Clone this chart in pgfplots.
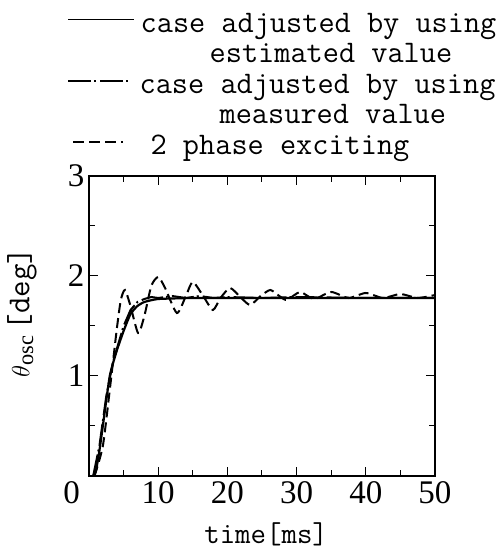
\documentclass[border=0pt]{standalone}
\usepackage{pgfplots}
\pgfplotsset{compat=1.18}
\usepackage{fontspec}
\setmainfont{Liberation Serif}
\begin{document}
\begin{tikzpicture}
\useasboundingbox (-89pt,-80pt) rectangle (407pt,476pt);
\begin{axis}[
  scale only axis,
  width=346pt, height=300pt,
  xmin=0, xmax=50, ymin=0, ymax=3,
  xtick={0,10,20,30,40,50},
  xticklabels={\makebox[0pt][r]{0\hspace{9pt}},10,20,30,40,50},
  ytick={0,1,2,3},
  yticklabels={,1,2,3},
  minor xtick={5,15,25,35,45},
  minor ytick={0.5,1.5,2.5},
  tick align=inside,
  major tick length=9pt,
  minor tick length=6pt,
  tick style={black, line width=1pt},
  axis line style={line width=1.3pt},
  every tick label/.append style={font=\fontsize{33}{33}\selectfont},
  xticklabel style={yshift=-2pt},
  yticklabel style={xshift=-1pt},
  xlabel={\ttfamily time[ms]},
  xlabel style={font=\fontsize{30}{30}\selectfont, at={(axis description cs:0.512,-0.225)}, anchor=base},
  ylabel={$\theta_{\mathrm{osc}}$\,{\ttfamily [deg]}},
  ylabel style={font=\fontsize{32}{32}\selectfont, at={(axis description cs:-0.194,0.545)}, anchor=center},
  legend style={draw=none, fill=none, at={(-0.064,1.55)}, anchor=north west,
    font=\ttfamily\fontsize{31.4}{31}\selectfont, row sep=0pt,
    inner sep=0pt, nodes={inner sep=0pt, text height=21pt, text depth=9.5pt}},
  legend cell align=left,
  legend image code/.code={\path (0pt,0pt); \draw[#1, line width=1pt] (0pt,6.5pt) -- (66pt,6.5pt);},
]
\addplot[black, line width=2.2pt, smooth, tension=0.3] coordinates {
(0.6,0) (1,0.05) (1.5,0.25) (2,0.5) (3,1.0) (4,1.25) (5,1.45) (6,1.62) (7,1.70)
(8,1.74) (10,1.77) (15,1.78) (20,1.78) (30,1.78) (40,1.78) (50,1.78)};
\addlegendentry{\hspace*{6pt}case adjusted by using}
\addlegendimage{empty legend}
\addlegendentry{\hspace*{75pt}estimated value}
\addplot[black, line width=2pt, dash pattern=on 22pt off 3pt on 2pt off 4pt,
  legend image code/.code={\path (0pt,0pt); \draw[black, line width=1.6pt, dash pattern=on 23pt off 3pt on 2pt off 4pt] (0pt,6.5pt) -- (63pt,6.5pt);}] coordinates {
(0.6,0) (1.5,0.3) (2.5,0.8) (3.5,1.15) (5,1.5) (6,1.66) (7,1.74) (8,1.77) (9,1.79)
(10,1.78) (12,1.80) (14,1.78) (16,1.80) (18,1.78) (20,1.79) (25,1.78) (30,1.79) (40,1.78) (50,1.78)};
\addlegendentry{\hspace*{5pt}case adjusted by using}
\addlegendimage{empty legend}
\addlegendentry{\hspace*{85pt}measured value}
\addplot[black, line width=2pt, dash pattern=on 10pt off 5pt, smooth, tension=0.4,
  legend image code/.code={\path (0pt,0pt); \draw[black, line width=1.6pt, dash pattern=on 11pt off 5pt on 11pt off 5pt on 11pt off 5pt on 2pt off 20pt] (5pt,6.5pt) -- (58pt,6.5pt);}] coordinates {
(0.8,0) (2,0.3) (3,0.86) (4,1.46) (4.6,1.76) (5.2,1.86) (6,1.7) (7.1,1.43) (8,1.6)
(9,1.9) (10,1.99) (11,1.88) (12.7,1.63) (14,1.8) (15,1.94) (16.5,1.8) (17.9,1.66)
(19,1.78) (20.4,1.88) (22,1.78) (23.3,1.71) (24.8,1.8) (26.2,1.86) (27.5,1.8)
(28.6,1.76) (30.5,1.84) (32.5,1.77) (35,1.84) (37.5,1.78) (40,1.83) (42.5,1.78)
(45,1.82) (47.5,1.78) (50,1.81)};
\addlegendentry{\hspace*{16pt}2 phase exciting}
\end{axis}
\end{tikzpicture}
\end{document}
